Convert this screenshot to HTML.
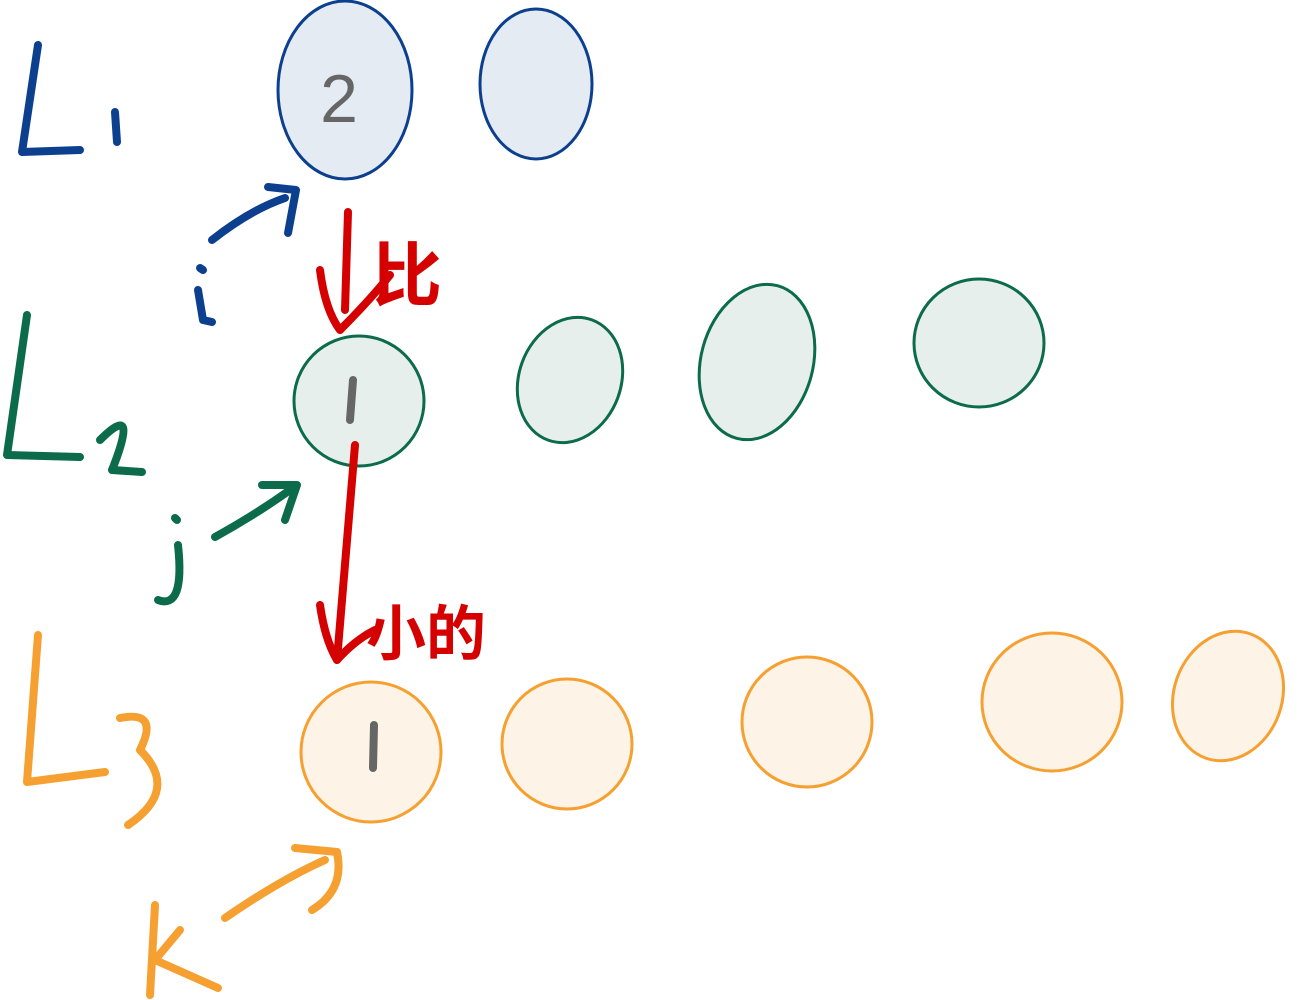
<!DOCTYPE html>
<html><head><meta charset="utf-8"><style>
html,body{margin:0;padding:0;background:#fff;width:1304px;height:1000px;overflow:hidden}
svg text{font-family:"Liberation Sans","Noto Sans CJK SC",sans-serif}
</style></head><body>
<svg width="1304" height="1000" viewBox="0 0 1304 1000" xmlns="http://www.w3.org/2000/svg">
<g fill="#e4ebf3" stroke="#0d3f8f" stroke-width="3">
<ellipse cx="345" cy="90" rx="67" ry="89"/>
<ellipse cx="536" cy="84" rx="56" ry="75"/>
</g>
<g fill="#e6efec" stroke="#0b6b4a" stroke-width="3">
<circle cx="359" cy="401" r="65"/>
<ellipse cx="570" cy="380" rx="51" ry="64" transform="rotate(20 570 380)"/>
<ellipse cx="757" cy="362" rx="56" ry="79" transform="rotate(15 757 362)"/>
<ellipse cx="979" cy="343" rx="65" ry="64"/>
</g>
<g fill="#fdf3e6" stroke="#f5a030" stroke-width="3">
<circle cx="371" cy="752" r="70"/>
<circle cx="567" cy="744" r="65"/>
<circle cx="807" cy="722" r="65"/>
<ellipse cx="1052" cy="702" rx="70" ry="69"/>
<ellipse cx="1228" cy="696" rx="54" ry="66" transform="rotate(20 1228 696)"/>
</g>
<text x="339" y="122" font-size="68" fill="#666" text-anchor="middle">2</text>
<path d="M353 380 L350 420" stroke="#666" stroke-width="8" stroke-linecap="round"/>
<path d="M374 725 L373 768" stroke="#666" stroke-width="8" stroke-linecap="round"/>
<g fill="none" stroke-linecap="round" stroke-linejoin="round" stroke-width="8">
<g stroke="#0d3f8f"><path d="M38 45 L22 152 L80 150"/><path d="M115 112 L117 142"/>
<path d="M212 240 Q250 210 285 198"/><path d="M268 187 L296 190 L288 233"/>
<path d="M200 268 L203 270"/><path d="M198 290 L203 320 L212 322"/></g>
<g stroke="#0b6b4a"><path d="M27 315 L7 455 L80 457"/><path d="M100 440 Q140 400 112 470 L142 472"/>
<path d="M215 537 Q255 515 290 490"/><path d="M262 485 L297 485 L285 520"/>
<path d="M175 518 L177 520"/><path d="M178 545 Q185 610 158 600"/></g>
<g stroke="#f5a030"><path d="M38 635 L27 782 L105 772"/><path d="M120 718 Q160 710 140 750 Q180 790 128 825"/>
<path d="M225 918 Q280 880 325 860"/><path d="M295 848 L337 852 Q345 890 312 910"/>
<path d="M155 905 L150 995"/><path d="M180 930 L155 960 L218 988"/></g>
<g stroke="#d50000"><path d="M348 212 L345 310"/><path d="M320 270 Q325 310 340 330 Q370 300 390 275"/>
<path d="M355 445 L337 660"/><path d="M320 605 Q325 640 337 660 Q355 640 375 630"/></g>
</g>
<text x="372" y="300" font-size="70" fill="#d50000" font-weight="bold">比</text>
<text x="366" y="655" font-size="60" fill="#d50000" font-weight="bold">小的</text>
</svg>
</body></html>
